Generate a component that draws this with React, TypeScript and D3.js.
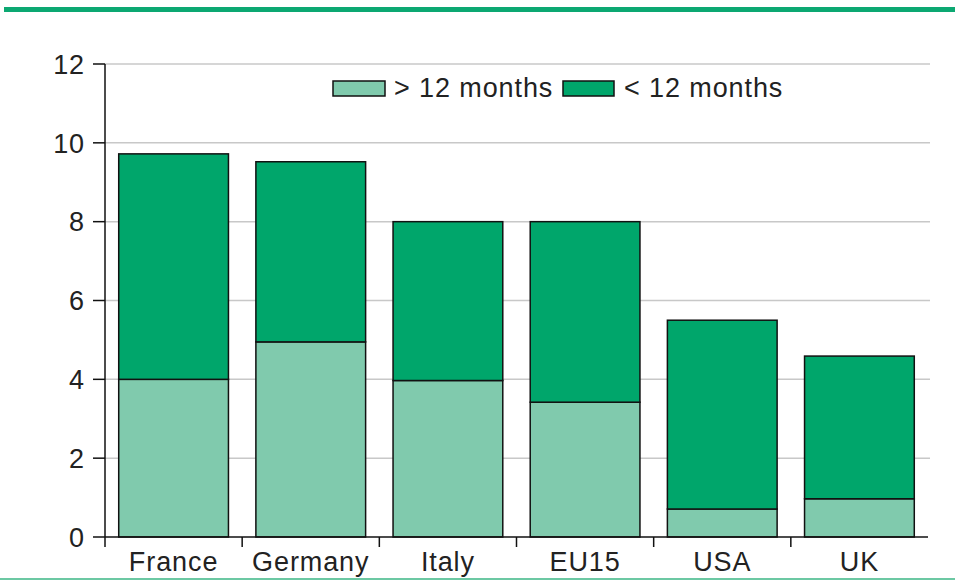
import React from "react";
import * as d3 from "d3";

// data
const countries = ["France", "Germany", "Italy", "EU15", "USA", "UK"];
const longTerm = [4.0, 4.95, 3.97, 3.42, 0.71, 0.97]; // > 12 months
const shortTerm = [5.72, 4.57, 4.03, 4.58, 4.79, 3.62]; // < 12 months
const seriesNames = ["> 12 months", "< 12 months"];
const yTicks = [0, 2, 4, 6, 8, 10, 12];

const W = 955;
const H = 581;
const margin = { left: 105, right: 27, top: 64, bottom: 44 };
const colors = ["#80CAAD", "#00A66B"];
const font = "'Liberation Sans', Arial, sans-serif";
const ls = 0.9;

export default function App() {
    const rows = countries.map((c, i) => ({ country: c, long: longTerm[i], short: shortTerm[i] }));
    const stacked = d3.stack<any>().keys(["long", "short"])(rows);

    const x = d3.scaleBand().domain(countries).range([margin.left, W - margin.right]).paddingInner(0.2).paddingOuter(0.1);
    const y = d3.scaleLinear().domain([0, 12]).range([H - margin.bottom, margin.top]);
    const x0 = margin.left;
    const x1 = W - margin.right;
    const y0 = y(0);

    // band boundaries for x ticks
    const boundaries = d3.range(1, countries.length).map((i) => x0 + i * ((x1 - x0) / countries.length));

    return (
        <div style={{ position: "absolute", left: 0, top: 0 }}>
            <svg width={W} height={H} style={{ display: "block" }}>
                <rect x={0} y={0} width={W} height={H} fill="#fff" />
                <line x1={4} x2={W} y1={9.5} y2={9.5} stroke="#0CA872" strokeWidth={5} />
                <line x1={0} x2={W} y1={579} y2={579} stroke="#6CC8A3" strokeWidth={2} />

                {/* gridlines */}
                {yTicks.filter((t) => t > 0).map((t) => (
                    <line key={t} x1={x0} x2={x1 + 2} y1={y(t)} y2={y(t)} stroke="#c8c8c8" strokeWidth={1.5} />
                ))}

                {/* bars */}
                {stacked.map((s, si) =>
                    s.map((d, i) => (
                        <rect
                            key={si + "-" + i}
                            x={x(countries[i])}
                            width={x.bandwidth()}
                            y={y(d[1])}
                            height={y(d[0]) - y(d[1])}
                            fill={colors[si]}
                            stroke="#111"
                            strokeWidth={1.5}
                        />
                    ))
                )}

                {/* y axis */}
                <line x1={x0} x2={x0} y1={y(12)} y2={y0 + 10} stroke="#111" strokeWidth={1.5} />
                {yTicks.map((t) => (
                    <g key={t}>
                        <line x1={x0 - 12} x2={x0} y1={y(t)} y2={y(t)} stroke="#111" strokeWidth={1.5} />
                        <text x={x0 - 20} y={y(t)} dy="0.36em" textAnchor="end" fontFamily={font} fontSize={27} fill="#222" letterSpacing={ls}>
                            {t}
                        </text>
                    </g>
                ))}

                {/* x axis */}
                <line x1={x0} x2={x1} y1={y0} y2={y0} stroke="#111" strokeWidth={1.5} />
                {boundaries.map((b, i) => (
                    <line key={i} x1={b} x2={b} y1={y0} y2={y0 + 10} stroke="#111" strokeWidth={1.5} />
                ))}
                {countries.map((c) => (
                    <text key={c} x={(x(c) as number) + x.bandwidth() / 2} y={571} textAnchor="middle" fontFamily={font} fontSize={27} fill="#222" letterSpacing={ls}>
                        {c}
                    </text>
                ))}

                {/* legend */}
                <g fontFamily={font} fontSize={27} fill="#222" letterSpacing={ls}>
                    <rect x={333} y={81} width={52} height={15} fill={colors[0]} stroke="#111" strokeWidth={1.5} />
                    <text x={394} y={97}>{seriesNames[0]}</text>
                    <rect x={563} y={81} width={51} height={15} fill={colors[1]} stroke="#111" strokeWidth={1.5} />
                    <text x={624} y={97}>{seriesNames[1]}</text>
                </g>
            </svg>
        </div>
    );
}
